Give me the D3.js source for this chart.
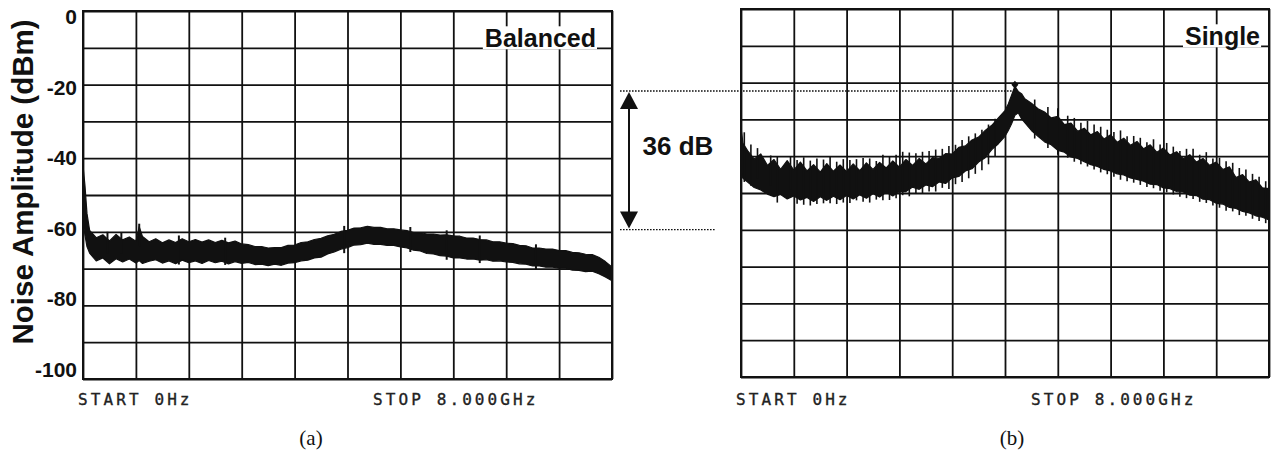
<!DOCTYPE html>
<html><head><meta charset="utf-8">
<script src="https://cdn.jsdelivr.net/npm/d3@7/dist/d3.min.js"></script>
<style>body{margin:0;background:#fff}svg{display:block}</style>
</head><body>
<svg id="c" width="1273" height="452"></svg>
<script>
// ---------- DATA ----------
const yTickValues = [0, -20, -40, -60, -80, -100];
const yTickLabels = ["0", "-20", "-40", "-60", "-80", "-100"];
const startLabel = "START 0Hz";
const stopLabel = "STOP 8.000GHz";
const yAxisTitle = "Noise Amplitude (dBm)";
const panelTags = ["Balanced", "Single"];
const captions = ["(a)", "(b)"];

// Balanced receiver noise (dBm): upper / lower edge of the trace band
const balFreq = [0,0.03,0.06,0.1,0.2,0.3,0.4,0.5,0.6,0.7,0.8,0.85,0.9,1.0,1.1,1.2,1.3,1.4,1.5,1.6,1.7,1.8,1.9,2.0,
  2.1,2.2,2.3,2.4,2.5,2.6,2.7,2.8,2.9,3.0,3.1,3.2,3.3,3.4,3.5,3.6,3.7,3.8,3.9,4.0,
  4.1,4.2,4.3,4.4,4.5,4.6,4.7,4.8,4.9,5.0,5.1,5.2,5.3,5.4,5.5,5.6,5.7,5.8,5.9,6.0,
  6.1,6.2,6.3,6.4,6.5,6.6,6.7,6.8,6.9,7.0,7.1,7.2,7.3,7.4,7.5,7.6,7.7,7.8,7.9,8.0];
const balHi = [-42.0,-47.5,-55.0,-59.6,-61.6,-60.8,-62.5,-60.7,-62.2,-61.4,-62.6,-58.6,-61.3,-62.7,-61.9,-63.0,-62.2,-62.9,-61.9,-62.7,-62.1,-62.8,-62.2,-62.9,
  -62.3,-63.0,-62.5,-63.3,-63.5,-64.0,-64.0,-64.4,-64.3,-64.3,-63.7,-63.6,-62.9,-62.7,-62.1,-61.8,-61.1,-60.7,-59.9,-59.6,
  -59.0,-58.9,-58.5,-58.8,-58.8,-59.2,-59.2,-59.5,-59.7,-60.2,-60.2,-60.6,-60.6,-60.9,-60.8,-61.1,-61.2,-61.7,-61.7,-62.1,
  -62.2,-62.7,-62.7,-63.1,-63.2,-63.7,-63.8,-64.4,-64.4,-64.7,-64.7,-65.1,-65.1,-65.6,-65.7,-66.1,-66.2,-66.9,-68.1,-69.6];
const balLo = [-57.0,-61.0,-64.0,-65.8,-67.9,-67.1,-68.7,-67.3,-68.2,-67.4,-68.5,-67.8,-68.6,-68.0,-67.6,-68.5,-67.9,-68.7,-67.7,-68.4,-67.9,-68.6,-67.8,-68.4,
  -68.0,-68.7,-68.1,-68.6,-68.3,-68.9,-68.8,-69.2,-68.8,-69.1,-68.5,-68.4,-67.9,-67.7,-67.1,-66.9,-66.0,-65.5,-64.7,-64.3,
  -63.6,-63.5,-63.1,-63.4,-63.4,-63.7,-63.7,-64.1,-64.4,-65.0,-65.2,-65.9,-66.0,-66.5,-66.6,-67.1,-67.1,-67.4,-67.4,-67.7,
  -67.6,-68.0,-67.9,-68.2,-68.3,-68.7,-68.8,-69.3,-69.3,-69.6,-69.6,-69.9,-69.9,-70.4,-70.5,-70.8,-70.7,-71.4,-72.3,-73.3];
const balSpikeF  = [0.37, 0.58, 0.85, 1.45, 2.15, 3.95, 4.95, 5.5, 6.0, 6.85];
const balSpikeHi = [-60.0,-60.3,-57.8,-61.0,-61.6,-58.4,-58.7,-59.6,-61.0,-63.4];
const balSpikeLo = [-66.0,-66.0,-64.0,-68.9,-69.0,-65.8,-65.5,-67.6,-68.5,-70.2];

// Single-ended receiver noise (dBm)
const sglFreq = [0,0.03,0.1,0.2,0.3,0.4,0.5,0.6,0.7,0.8,0.9,1.0,1.1,1.2,1.3,1.4,1.5,1.6,1.7,1.8,1.9,2.0,
  2.1,2.2,2.3,2.4,2.5,2.6,2.7,2.8,2.9,3.0,3.1,3.2,3.3,3.4,3.5,3.6,3.7,3.8,3.9,4.0,4.05,4.1,4.15,4.2,4.25,4.3,
  4.4,4.5,4.6,4.7,4.8,4.9,5.0,5.1,5.2,5.3,5.4,5.5,5.6,5.7,5.8,5.9,6.0,
  6.1,6.2,6.3,6.4,6.5,6.6,6.7,6.8,6.9,7.0,7.1,7.2,7.3,7.4,7.5,7.6,7.7,7.8,7.9,8.0];
const sglHi = [-32.3,-36.5,-38.5,-40.8,-39.4,-42.5,-40.9,-43.6,-41.2,-43.8,-41.6,-44.0,-42.3,-44.3,-42.0,-44.1,-42.4,-44.2,-42.1,-43.9,-41.8,-43.6,
  -41.7,-43.2,-41.3,-43.0,-40.9,-42.5,-40.6,-42.1,-40.4,-40.6,-39.3,-39.4,-37.6,-37.2,-35.6,-34.8,-33.0,-31.6,-29.6,-27.6,-25.8,-23.4,-21.0,-22.4,-23.0,-24.4,
  -25.6,-27.1,-28.0,-29.6,-29.2,-31.4,-31.0,-33.2,-32.4,-34.2,-33.3,-35.3,-34.2,-36.2,-35.1,-37.0,-36.0,
  -38.0,-36.9,-38.9,-37.8,-39.7,-38.8,-40.7,-39.6,-41.6,-40.6,-42.5,-41.6,-43.6,-42.9,-45.8,-45.0,-47.0,-46.4,-48.6,-48.8];
const sglLo = [-44.5,-46.0,-47.0,-48.5,-49.2,-50.3,-51.0,-50.4,-51.6,-50.8,-51.9,-51.2,-52.3,-51.0,-52.0,-50.9,-51.8,-50.7,-51.6,-50.5,-51.4,-50.2,
  -51.1,-49.8,-50.8,-49.6,-49.6,-48.4,-49.0,-47.8,-48.3,-47.0,-47.4,-45.9,-45.5,-44.0,-43.4,-41.6,-40.4,-38.2,-36.6,-34.6,-33.0,-31.2,-28.9,-28.2,-29.8,-30.9,
  -33.0,-34.6,-36.1,-36.9,-38.4,-38.9,-40.2,-40.6,-41.5,-42.3,-42.8,-43.6,-44.0,-44.8,-45.1,-45.9,-46.3,
  -46.8,-47.6,-47.7,-48.6,-48.8,-49.6,-49.7,-50.6,-50.7,-51.7,-51.8,-52.8,-53.0,-53.9,-54.2,-55.0,-55.4,-56.2,-56.6,-57.3];
const sglSpikeF  = [0.05,0.15,0.25,0.45,0.55,0.75,0.85,0.95,1.05,1.15,1.25,1.35,1.45,1.55,1.65,1.75,1.85,1.95,2.05,2.15,2.25,2.35,2.45,2.55,
  2.65,2.75,2.85,2.95,3.05,3.15,3.25,3.35,3.45,3.55,3.65,3.75,3.85,4.45,4.65,4.8,4.95,5.05,5.15,5.25,5.35,5.45,5.55,5.65,5.75,5.85,
  5.95,6.05,6.15,6.25,6.35,6.45,6.55,6.65,6.75,6.85,6.95,7.05,7.15,7.25,7.35,7.45,7.55,7.65,7.75,7.85,7.95];
const sglSpikeHi = [-33.5,-36.8,-37.8,-39.8,-40.2,-40.0,-41.0,-40.3,-41.2,-40.6,-40.9,-40.2,-41.5,-40.8,-41.0,-40.8,-40.5,-40.6,-41.3,-39.6,-40.2,-39.6,-38.8,-39.0,
  -39.2,-38.8,-38.6,-38.2,-38.0,-37.2,-36.9,-35.6,-34.6,-33.8,-32.8,-31.4,-29.8,-24.6,-26.6,-27.0,-29.0,-29.6,-30.9,-30.4,-31.4,-32.0,-32.8,-33.4,-33.0,-34.6,
  -34.5,-35.0,-36.2,-35.4,-36.8,-36.4,-37.4,-38.6,-38.0,-38.0,-39.6,-38.9,-40.6,-40.4,-41.4,-41.8,-43.2,-43.6,-44.8,-45.6,-46.8];
const sglSpikeLo = [-47.0,-48.0,-46.0,-48.0,-52.6,-49.0,-52.9,-53.2,-53.4,-53.0,-52.8,-52.8,-53.0,-52.6,-52.7,-52.0,-52.4,-52.6,-51.8,-52.0,-51.9,-51.4,-50.6,-50.9,
  -50.2,-50.0,-49.6,-49.6,-48.6,-48.9,-47.6,-47.0,-46.0,-44.8,-43.8,-42.2,-40.0,-35.2,-37.8,-39.6,-40.4,-41.5,-42.2,-42.8,-43.6,-44.4,-44.9,-45.6,-46.4,-46.8,
  -47.2,-47.8,-48.4,-48.7,-49.4,-49.8,-50.4,-51.0,-51.4,-51.6,-52.4,-52.7,-53.4,-54.0,-54.8,-55.0,-56.0,-56.2,-57.0,-57.6,-58.2];

// Peak marker and the 36 dB annotation levels
const peakFreq = 4.15, peakLevel = -20.6;
const refTopLevel = -22.3;     // dotted line from single-ended peak
const refBottomLevel = -59.4;  // dotted line at balanced noise level
const diffLabel = "36 dB";

// ---------- DRAWING ----------
const svg = d3.select("#c");
const INK = "#111";
const SANS = "Liberation Sans, Arial, sans-serif";

const panels = [
  {x0: 83, x1: 612, y0: 11, y1: 379, tag: panelTags[0], cap: captions[0], labels: true, capX: 311, spw: 2,
   freq: balFreq, hi: balHi, lo: balLo, sf: balSpikeF, sh: balSpikeHi, sl: balSpikeLo},
  {x0: 741, x1: 1269, y0: 9, y1: 377, tag: panelTags[1], cap: captions[1], labels: false, capX: 1012, spw: 1.6,
   freq: sglFreq, hi: sglHi, lo: sglLo, sf: sglSpikeF, sh: sglSpikeHi, sl: sglSpikeLo}
];

panels.forEach((p, i) => {
  const x = d3.scaleLinear().domain([0, 8]).range([p.x0, p.x1]);
  const y = d3.scaleLinear().domain([-100, 0]).range([p.y1, p.y0]);
  p.x = x; p.y = y;
  const g = svg.append("g");
  const clipId = "clip" + i;
  svg.append("clipPath").attr("id", clipId).append("rect")
    .attr("x", p.x0).attr("y", p.y0).attr("width", p.x1 - p.x0).attr("height", p.y1 - p.y0);

  // grid via axes
  const xg = g.append("g").attr("transform", `translate(0,${p.y1})`)
    .call(d3.axisBottom(x).tickValues(d3.range(0, 8.001, 0.8)).tickSize(-(p.y1 - p.y0)).tickFormat(""));
  const yg = g.append("g").attr("transform", `translate(${p.x0},0)`)
    .call(d3.axisLeft(y).tickValues(d3.range(-100, 0.001, 10)).tickSize(-(p.x1 - p.x0)).tickFormat(""));
  [xg, yg].forEach(a => {
    a.select(".domain").remove();
    a.selectAll("line").attr("stroke", INK).attr("stroke-width", 1.8);
  });
  g.append("rect").attr("x", p.x0).attr("y", p.y0).attr("width", p.x1 - p.x0).attr("height", p.y1 - p.y0)
    .attr("fill", "none").attr("stroke", INK).attr("stroke-width", 2);

  // trace band
  const data = p.freq.map((f, k) => ({f, hi: p.hi[k], lo: p.lo[k]}));
  const area = d3.area().x(d => x(d.f)).y0(d => y(d.lo)).y1(d => y(d.hi));
  const tg = g.append("g").attr("clip-path", `url(#${clipId})`);
  tg.append("path").datum(data).attr("d", area).attr("fill", INK)
    .attr("stroke", INK).attr("stroke-width", 1.2).attr("stroke-linejoin", "round");
  tg.selectAll("line.spk").data(p.sf).join("line").attr("class", "spk")
    .attr("x1", d => x(d)).attr("x2", d => x(d))
    .attr("y1", (d, k) => y(p.sh[k])).attr("y2", (d, k) => y(p.sl[k]))
    .attr("stroke", INK).attr("stroke-width", p.spw);

  // panel tag with white background
  const tag = g.append("text").attr("x", p.x1 - (i === 0 ? 16 : 9)).attr("y", y(-10) - 0.5)
    .attr("text-anchor", "end").attr("font-family", SANS)
    .attr("font-weight", "bold").attr("font-size", 25).attr("fill", INK).text(p.tag);
  const bb = tag.node().getBBox();
  g.insert("rect", () => tag.node()).attr("x", bb.x - 2).attr("y", bb.y + 2)
    .attr("width", bb.width + 3).attr("height", y(-10) + 1.5 - (bb.y + 2)).attr("fill", "#fff");

  // bottom plotter labels
  const mono = {"font-family": "DejaVu Sans Mono, monospace", "font-size": 16, "letter-spacing": "3.1px",
    fill: "#222", stroke: "#222", "stroke-width": 0.35};
  const t1 = g.append("text").attr("x", p.x0 - 5).attr("y", 405).text(startLabel);
  const t2 = g.append("text").attr("x", p.x0 + 290).attr("y", 405).text(stopLabel);
  [t1, t2].forEach(t => Object.entries(mono).forEach(([k, v]) => t.attr(k, v)));

  // caption
  g.append("text").attr("x", p.capX).attr("y", 445)
    .attr("text-anchor", "middle").attr("font-family", "Liberation Serif, Times New Roman, serif")
    .attr("font-size", 21).attr("fill", INK).text(p.cap);

  if (p.labels) {
    const ly = d3.scaleLinear().domain([0, -100]).range([24, 377]);
    g.selectAll("text.yt").data(yTickValues).join("text").attr("class", "yt")
      .attr("x", p.x0 - 6).attr("y", d => ly(d)).attr("text-anchor", "end")
      .attr("font-family", SANS).attr("font-weight", "bold")
      .attr("font-size", 21).attr("fill", INK).text((d, k) => yTickLabels[k]);
    g.append("text").attr("transform", `translate(33,${(p.y0 + p.y1) / 2 - 13}) rotate(-90)`)
      .attr("text-anchor", "middle").attr("font-family", SANS)
      .attr("font-weight", "bold").attr("font-size", 29.5).attr("fill", INK).text(yAxisTitle);
  }
});

// ---------- 36 dB annotation ----------
const L = panels[0], R = panels[1];
const topY = R.y(refTopLevel), botY = L.y(refBottomLevel);
const ann = svg.append("g");
ann.append("line").attr("x1", 620).attr("x2", R.x(peakFreq)).attr("y1", topY).attr("y2", topY)
  .attr("stroke", INK).attr("stroke-width", 1.4).attr("stroke-dasharray", "1.6 1.4");
ann.append("line").attr("x1", 620).attr("x2", 716).attr("y1", botY).attr("y2", botY)
  .attr("stroke", INK).attr("stroke-width", 1.4).attr("stroke-dasharray", "1.6 1.4");
const ax = 629;
ann.append("line").attr("x1", ax).attr("x2", ax).attr("y1", topY + 10).attr("y2", botY - 10)
  .attr("stroke", INK).attr("stroke-width", 2);
ann.append("path").attr("d", `M${ax},${topY + 1}L${ax - 9},${topY + 18}L${ax + 9},${topY + 18}Z`).attr("fill", INK);
ann.append("path").attr("d", `M${ax},${botY - 1}L${ax - 9},${botY - 18}L${ax + 9},${botY - 18}Z`).attr("fill", INK);
ann.append("text").attr("x", 678).attr("y", 155).attr("text-anchor", "middle")
  .attr("font-family", SANS).attr("font-weight", "bold")
  .attr("font-size", 26).attr("fill", INK).text(diffLabel);
// peak marker (diamond)
const px = R.x(peakFreq), py = R.y(peakLevel);
ann.append("path").attr("d", `M${px},${py - 4}L${px + 3.5},${py}L${px},${py + 4}L${px - 3.5},${py}Z`).attr("fill", INK);
</script>
</body></html>
